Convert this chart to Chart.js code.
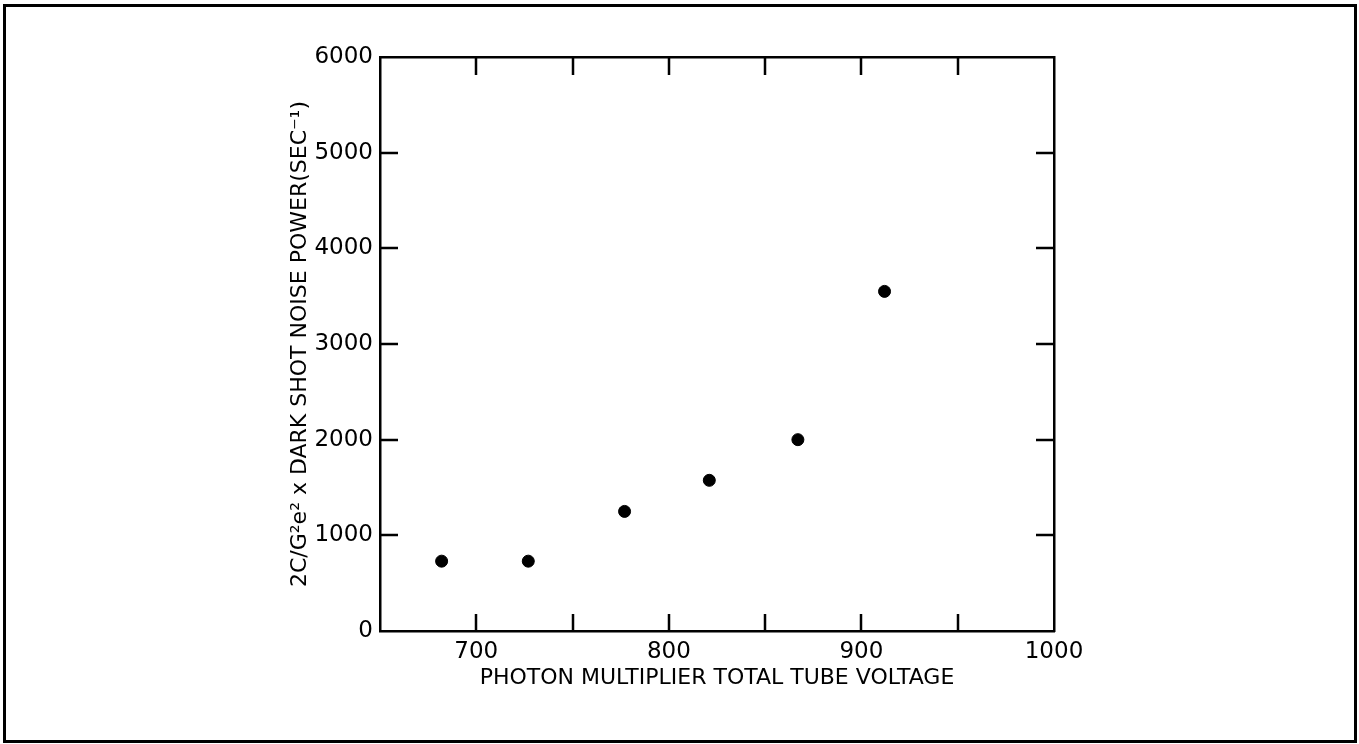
<!DOCTYPE html>
<html>
<head>
<meta charset="utf-8">
<script src="https://cdn.jsdelivr.net/npm/chart.js@4/dist/chart.umd.min.js"></script>
<style>
  html, body { margin: 0; padding: 0; background: #fff; }
  #wrap { width: 1359px; height: 744px; }
</style>
</head>
<body>
<div id="wrap"><canvas id="chart" width="1359" height="744"></canvas></div>
<script>
'use strict';

// Tube voltage (x) and noise power (y)
const voltages = [682, 727, 777, 821, 867, 912];
const noisePower = [730, 730, 1250, 1575, 2000, 3550];

// Axis ranges and the labels printed on them
const xRange = [650, 1000];
const xStep = 50;
const xLabels = [700, 800, 900, 1000];
const yRange = [0, 6000];
const yStep = 1000;

const xTitle = 'PHOTON MULTIPLIER TOTAL TUBE VOLTAGE';
const yTitle = '2C/G\u00B2e\u00B2 x DARK SHOT NOISE POWER(SEC\u207B\u00B9)';

const FONT = 'DejaVu Sans';
const INK = '#000';

// Outer frame around the whole figure
const frame = {
  id: 'frame',
  beforeDraw(chart) {
    const { ctx } = chart;
    ctx.save();
    ctx.fillStyle = '#fff';
    ctx.fillRect(0, 0, chart.width, chart.height);
    ctx.strokeStyle = INK;
    ctx.lineWidth = 3;
    ctx.strokeRect(4.5, 5.5, 1351, 736);
    ctx.restore();
  }
};

// Tick marks pointing into the plot box, on all four sides
const inwardTicks = {
  id: 'inwardTicks',
  afterDraw(chart) {
    const { ctx, chartArea: a, scales } = chart;
    ctx.save();
    ctx.strokeStyle = INK;
    ctx.lineWidth = 2.5;
    ctx.beginPath();
    scales.x.ticks.forEach(t => {
      if (t.value <= xRange[0] || t.value >= xRange[1]) return;
      const px = Math.round(scales.x.getPixelForValue(t.value));
      ctx.moveTo(px, a.bottom);
      ctx.lineTo(px, a.bottom - 17);
      ctx.moveTo(px, a.top);
      ctx.lineTo(px, a.top + 18);
    });
    scales.y.ticks.forEach(t => {
      if (t.value <= yRange[0] || t.value >= yRange[1]) return;
      const py = Math.round(scales.y.getPixelForValue(t.value));
      ctx.moveTo(a.left, py);
      ctx.lineTo(a.left + 18, py);
      ctx.moveTo(a.right, py);
      ctx.lineTo(a.right - 18, py);
    });
    ctx.stroke();
    ctx.restore();
  }
};

const border = { display: true, color: INK, width: 2.5 };

new Chart(document.getElementById('chart'), {
  type: 'scatter',
  data: {
    datasets: [{
      data: voltages.map((v, i) => ({ x: v, y: noisePower[i] })),
      backgroundColor: INK,
      borderColor: INK,
      pointRadius: 6,
      pointHoverRadius: 6
    }]
  },
  options: {
    responsive: false,
    animation: false,
    events: [],
    layout: { padding: { left: 260, right: 305, top: 57, bottom: 33 } },
    plugins: { legend: { display: false }, tooltip: { enabled: false } },
    scales: {
      x: {
        type: 'linear',
        position: 'bottom',
        min: xRange[0],
        max: xRange[1],
        grid: { display: false, drawTicks: false },
        border: border,
        afterFit(scale) { scale.height = 80; },
        ticks: {
          stepSize: xStep,
          padding: 7,
          maxRotation: 0,
          autoSkip: false,
          color: INK,
          font: { family: FONT, size: 23 },
          callback: v => xLabels.includes(v) ? String(v) : ''
        },
        title: {
          display: true,
          text: xTitle,
          color: INK,
          font: { family: FONT, size: 22 },
          padding: { top: 0, bottom: 20 }
        }
      },
      xTop: {
        type: 'linear',
        position: 'top',
        min: xRange[0],
        max: xRange[1],
        grid: { display: false, drawTicks: false },
        border: border,
        ticks: { display: false },
        afterFit(scale) { scale.height = 0; }
      },
      y: {
        type: 'linear',
        position: 'left',
        min: yRange[0],
        max: yRange[1],
        grid: { display: false, drawTicks: false },
        border: border,
        afterFit(scale) { scale.width = 120; },
        ticks: {
          stepSize: yStep,
          padding: 7,
          color: INK,
          font: { family: FONT, size: 23 },
          callback: v => String(v)
        },
        title: {
          display: true,
          text: yTitle,
          color: INK,
          font: { family: FONT, size: 22 },
          padding: { top: 27, bottom: 0 }
        }
      },
      yRight: {
        type: 'linear',
        position: 'right',
        min: yRange[0],
        max: yRange[1],
        grid: { display: false, drawTicks: false },
        border: border,
        ticks: { display: false },
        afterFit(scale) { scale.width = 0; }
      }
    }
  },
  plugins: [frame, inwardTicks]
});
</script>
</body>
</html>
